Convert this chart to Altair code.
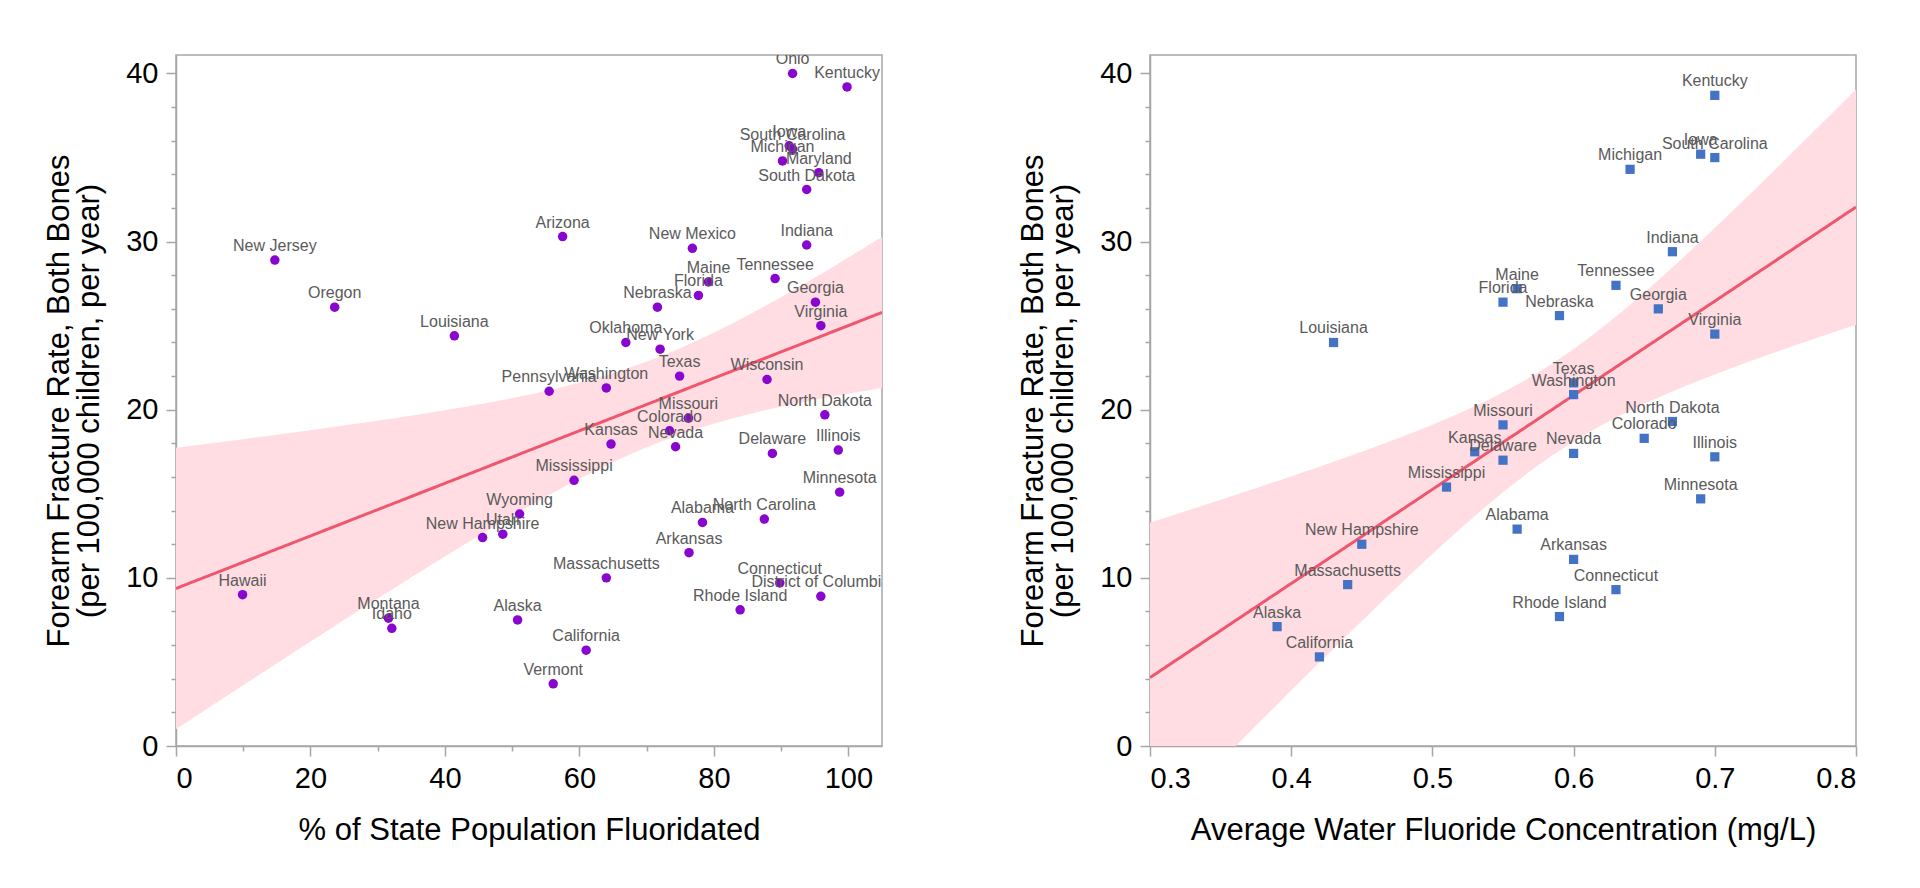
import altair as alt
import numpy as np
import pandas as pd

# ---------------- data ----------------
states1 = ["Ohio", "Kentucky", "Iowa", "South Carolina", "Michigan", "Maryland",
           "South Dakota", "Arizona", "New Mexico", "Indiana", "New Jersey", "Maine",
           "Tennessee", "Florida", "Georgia", "Nebraska", "Oregon", "Virginia",
           "Louisiana", "Oklahoma", "New York", "Texas", "Wisconsin", "Washington",
           "Pennsylvania", "Missouri", "North Dakota", "Colorado", "Kansas", "Nevada",
           "Delaware", "Illinois", "Mississippi", "Minnesota", "Wyoming", "Alabama",
           "North Carolina", "Utah", "New Hampshire", "Arkansas", "Massachusetts",
           "Connecticut", "District of Columbia", "Hawaii", "Rhode Island", "Montana",
           "Idaho", "Alaska", "California", "Vermont"]
pct_fluoridated = [91.7, 99.8, 91.2, 91.7, 90.2, 95.6, 93.8, 57.5, 76.8, 93.8, 14.7, 79.2,
                   89.1, 77.7, 95.1, 71.6, 23.6, 95.9, 41.4, 66.9, 72.0, 74.9, 87.9, 64.0,
                   55.5, 76.2, 96.5, 73.4, 64.7, 74.3, 88.7, 98.5, 59.2, 98.7, 51.1, 78.3,
                   87.5, 48.6, 45.6, 76.3, 64.0, 89.8, 95.9, 9.9, 83.9, 31.6, 32.1, 50.8,
                   61.0, 56.1]
rate1 = [40.0, 39.2, 35.7, 35.5, 34.8, 34.1, 33.1, 30.3, 29.6, 29.8, 28.9, 27.6,
         27.8, 26.8, 26.4, 26.1, 26.1, 25.0, 24.4, 24.0, 23.6, 22.0, 21.8, 21.3,
         21.1, 19.5, 19.7, 18.75, 17.96, 17.8, 17.4, 17.6, 15.8, 15.1, 13.8, 13.3,
         13.5, 12.6, 12.4, 11.5, 10.0, 9.7, 8.9, 9.0, 8.1, 7.6, 7.0, 7.5, 5.7, 3.7]

states2 = ["Kentucky", "Iowa", "South Carolina", "Michigan", "Indiana", "Tennessee",
           "Maine", "Florida", "Georgia", "Nebraska", "Virginia", "Louisiana", "Texas",
           "Washington", "Missouri", "North Dakota", "Colorado", "Kansas", "Delaware",
           "Nevada", "Illinois", "Mississippi", "Minnesota", "Alabama", "New Hampshire",
           "Arkansas", "Massachusetts", "Connecticut", "Rhode Island", "Alaska", "California"]
fluoride_mg_l = [0.70, 0.69, 0.70, 0.64, 0.67, 0.63, 0.56, 0.55, 0.66, 0.59, 0.70, 0.43,
                 0.60, 0.60, 0.55, 0.67, 0.65, 0.53, 0.55, 0.60, 0.70, 0.51, 0.69, 0.56,
                 0.45, 0.60, 0.44, 0.63, 0.59, 0.39, 0.42]
rate2 = [38.7, 35.2, 35.0, 34.3, 29.4, 27.4, 27.2, 26.4, 26.0, 25.6, 24.5, 24.0, 21.6,
         20.9, 19.1, 19.3, 18.3, 17.5, 17.0, 17.4, 17.2, 15.4, 14.7, 12.9, 12.0,
         11.1, 9.6, 9.3, 7.7, 7.1, 5.3]

x1_ticks = [0, 10, 20, 30, 40, 50, 60, 70, 80, 90, 100]
x2_ticks = [0.3, 0.4, 0.5, 0.6, 0.7, 0.8]
y_ticks = list(range(0, 42, 2))

Y_TITLE = ["Forearm Fracture Rate, Both Bones", "(per 100,000 children, per year)"]
FONT = "Liberation Sans"


def fit_band(x, y, lo, hi, tcrit):
    """OLS fit with 95% confidence band of the mean, computed from the data."""
    x = np.asarray(x, float)
    y = np.asarray(y, float)
    n = len(x)
    b, a = np.polyfit(x, y, 1)
    resid = y - (a + b * x)
    s = np.sqrt((resid ** 2).sum() / (n - 2))
    xm = x.mean()
    sxx = ((x - xm) ** 2).sum()
    grid = np.linspace(lo, hi, 201)
    fit = a + b * grid
    se = s * np.sqrt(1.0 / n + (grid - xm) ** 2 / sxx)
    return pd.DataFrame({"x": grid, "fit": fit, "lo": fit - tcrit * se, "hi": fit + tcrit * se})


pts1 = pd.DataFrame({"x": pct_fluoridated, "y": rate1, "state": states1})
pts2 = pd.DataFrame({"x": fluoride_mg_l, "y": rate2, "state": states2})
fit1 = fit_band(pct_fluoridated, rate1, 0, 105, 2.0106)   # t(0.975, 48)
fit2 = fit_band(fluoride_mg_l, rate2, 0.3, 0.8, 2.0452)   # t(0.975, 29)

W, H = 706, 691
y_scale = alt.Scale(domain=[0, 41.1], nice=False, zero=False)

y_axis = alt.Axis(
    title=Y_TITLE, values=y_ticks,
    labelExpr="datum.value % 10 === 0 ? datum.label : ''",
    tickSize={"condition": {"test": "datum.value % 10 === 0", "value": 10}, "value": 5},
    labelPadding=8, titlePadding=20, titleLineHeight=30,
)


def panel(pts, fit, xdomain, x_axis, shape, color, size):
    x_scale = alt.Scale(domain=xdomain, nice=False, zero=False)
    base = alt.Chart(fit)
    band = base.mark_area(color="#ffdde3", clip=True).encode(
        x=alt.X("x:Q", scale=x_scale, axis=x_axis),
        y=alt.Y("lo:Q", scale=y_scale, axis=y_axis),
        y2="hi:Q",
    )
    line = base.mark_line(color="#f0566c", strokeWidth=3, clip=True).encode(
        x=alt.X("x:Q", scale=x_scale, axis=x_axis),
        y=alt.Y("fit:Q", scale=y_scale, axis=y_axis),
    )
    p = alt.Chart(pts)
    marks = p.mark_point(shape=shape, filled=True, color=color, size=size, opacity=1).encode(
        x=alt.X("x:Q", scale=x_scale, axis=x_axis),
        y=alt.Y("y:Q", scale=y_scale, axis=y_axis),
    )
    labels = p.mark_text(dy=-9, fontSize=16, color="#5a5a5a", font=FONT, clip=True,
                         baseline="alphabetic").encode(
        x=alt.X("x:Q", scale=x_scale, axis=x_axis),
        y=alt.Y("y:Q", scale=y_scale, axis=y_axis),
        text="state:N",
    )
    return alt.layer(band, line, marks, labels).properties(width=W, height=H)


x1_axis = alt.Axis(
    title="% of State Population Fluoridated", values=x1_ticks,
    labelExpr="datum.value % 20 === 0 ? datum.label : ''",
    tickSize={"condition": {"test": "datum.value % 20 === 0", "value": 10}, "value": 5},
    labelPadding=8, titlePadding=22,
)
x2_axis = alt.Axis(
    title="Average Water Fluoride Concentration (mg/L)", values=x2_ticks, format=".1f",
    tickSize=10, labelPadding=8, titlePadding=22,
)

left = panel(pts1, fit1, [0, 105], x1_axis, "circle", "#8806ce", 90)
right = panel(pts2, fit2, [0.3, 0.8], x2_axis, "square", "#4472c4", 85)

chart = alt.hconcat(left, right, spacing=133).properties(
    padding={"left": 34, "top": 46, "right": 5, "bottom": 5}
).configure_view(
    stroke="#a6a6a6", strokeWidth=1.5
).configure_axis(
    domainColor="#a6a6a6", domainWidth=1.5, tickColor="#a6a6a6", tickWidth=1.5,
    grid=False, labelFont=FONT, labelFontSize=29, labelColor="#000000",
    titleFont=FONT, titleFontSize=31, titleFontWeight="normal", titleColor="#000000",
)

chart.save("out.html", embed_options={"renderer": "svg", "actions": False})
